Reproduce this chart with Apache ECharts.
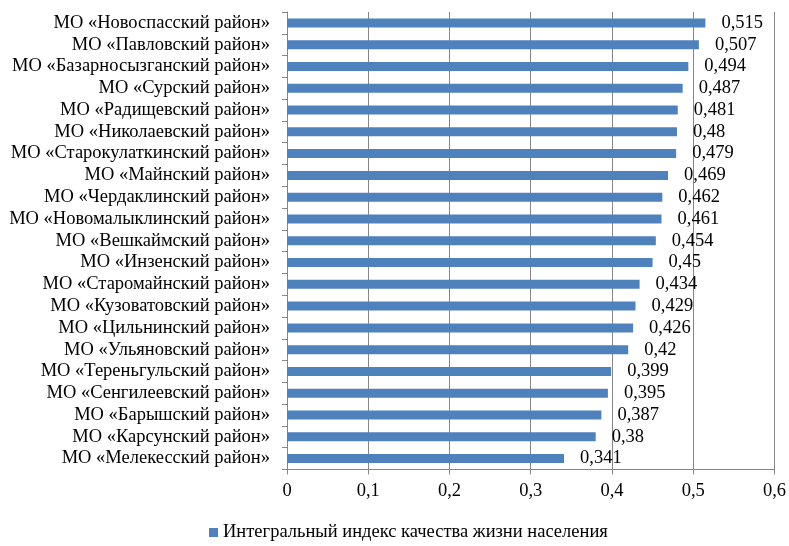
<!DOCTYPE html>
<html><head><meta charset="utf-8">
<script src="https://cdn.jsdelivr.net/npm/echarts@6/dist/echarts.min.js"></script>
<style>html,body{margin:0;padding:0;background:#fff}#c{width:789px;height:546px}</style>
</head><body><div id="c"></div>
<script>
var categories = [
  'МО «Новоспасский район»','МО «Павловский район»','МО «Базарносызганский район»','МО «Сурский район»',
  'МО «Радищевский район»','МО «Николаевский район»','МО «Старокулаткинский район»','МО «Майнский район»',
  'МО «Чердаклинский район»','МО «Новомалыклинский район»','МО «Вешкаймский район»','МО «Инзенский район»',
  'МО «Старомайнский район»','МО «Кузоватовский район»','МО «Цильнинский район»','МО «Ульяновский район»',
  'МО «Тереньгульский район»','МО «Сенгилеевский район»','МО «Барышский район»','МО «Карсунский район»',
  'МО «Мелекесский район»'
];
var values = [0.515,0.507,0.494,0.487,0.481,0.48,0.479,0.469,0.462,0.461,0.454,0.45,0.434,0.429,0.426,0.42,0.399,0.395,0.387,0.38,0.341];
var seriesName = 'Интегральный индекс качества жизни населения';
var xTicks = [0,0.1,0.2,0.3,0.4,0.5,0.6];

var font = "'Liberation Serif','Times New Roman',serif";
var fmt = function(v){ return String(v).replace('.', ','); };
var chart = echarts.init(document.getElementById('c'));
chart.setOption({
  animation:false,
  textStyle:{fontFamily:font},
  grid:{left:287,right:12,top:12,bottom:76.5,containLabel:false},
  legend:{
    data:[seriesName], left:204, top:518, icon:'rect', itemWidth:9, itemHeight:9, itemGap:5,
    textStyle:{fontFamily:font,fontSize:18.5,color:'#000'}
  },
  xAxis:{
    type:'value', min:xTicks[0], max:xTicks[xTicks.length-1], interval:0.1,
    axisLine:{show:true,lineStyle:{color:'#868686',width:1}},
    axisTick:{show:true,length:5,lineStyle:{color:'#868686'}},
    splitLine:{show:true,lineStyle:{color:'#868686',width:1}},
    axisLabel:{fontFamily:font,fontSize:18.5,color:'#000',margin:12,formatter:function(v){return fmt(+v.toFixed(1));}}
  },
  yAxis:{
    type:'category', data:categories, inverse:true,
    axisLine:{show:true,lineStyle:{color:'#868686',width:1}},
    axisTick:{show:true,length:5,lineStyle:{color:'#868686'}},
    axisLabel:{fontFamily:font,fontSize:18.5,color:'#000',margin:17,interval:0}
  },
  series:[{
    name:seriesName, type:'bar', data:values, barWidth:9,
    itemStyle:{color:'#4F81BD'},
    label:{show:true,position:'right',distance:16,fontFamily:font,fontSize:18.5,color:'#000',
      formatter:function(p){return fmt(p.value);}}
  }]
});
</script></body></html>
